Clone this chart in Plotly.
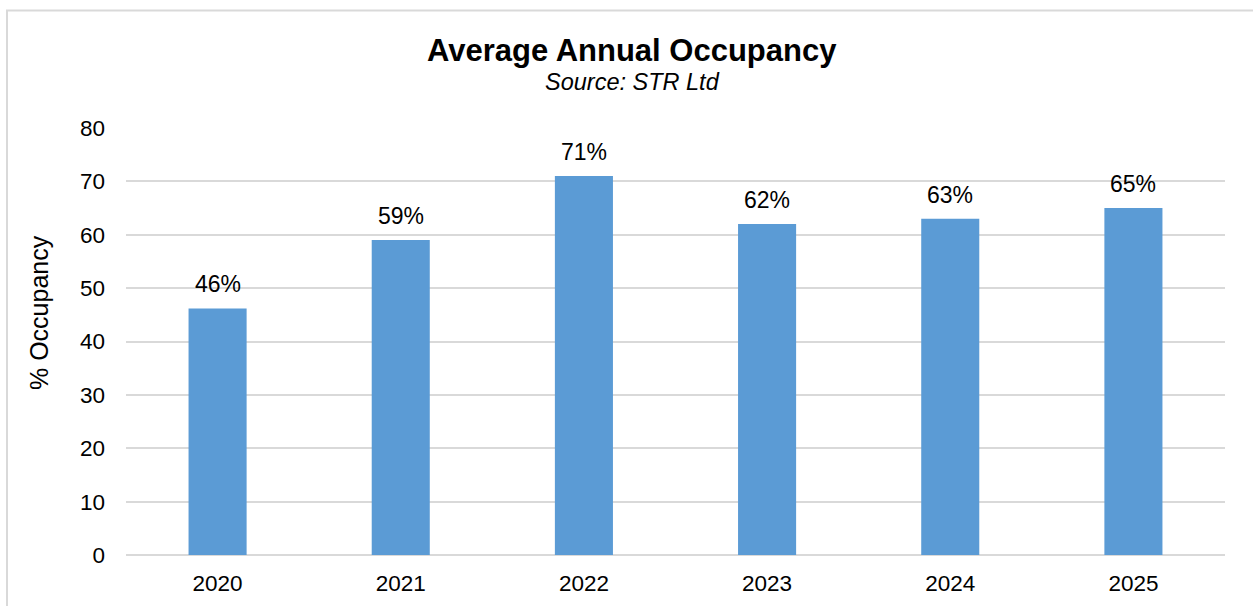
import plotly.graph_objects as go

years = ["2020", "2021", "2022", "2023", "2024", "2025"]
occupancy = [46.2, 59.0, 71.0, 62.0, 63.0, 65.0]
labels = ["46%", "59%", "71%", "62%", "63%", "65%"]
y_ticks = [0, 10, 20, 30, 40, 50, 60, 70, 80]

FONT = "Liberation Sans, Arial, sans-serif"
L, R, T, B = 126, 28, 128, 51
W, H = 1253, 606
pw, ph = W - L - R, H - T - B

def px_x(px):
    return (px - L) / pw

def px_y(py):
    return (H - B - py) / ph

fig = go.Figure()
fig.add_trace(go.Bar(
    x=years, y=occupancy,
    marker=dict(color="#5B9BD5", line=dict(width=0)),
    hoverinfo="skip",
))

for i, (v, lab) in enumerate(zip(occupancy, labels)):
    fig.add_annotation(x=i, y=v, text=lab, showarrow=False, yanchor="bottom",
                       yshift=9, font=dict(family=FONT, size=23, color="black"))

fig.add_annotation(xref="paper", yref="paper", x=px_x(632), y=px_y(50),
                   text="<b>Average Annual Occupancy</b>", showarrow=False,
                   xanchor="center", yanchor="middle",
                   font=dict(family=FONT, size=31, color="black"))
fig.add_annotation(xref="paper", yref="paper", x=px_x(632), y=px_y(82),
                   text="<i>Source: STR Ltd</i>", showarrow=False,
                   xanchor="center", yanchor="middle",
                   font=dict(family=FONT, size=23.5, color="black"))
fig.add_annotation(xref="paper", yref="paper", x=px_x(39), y=px_y(313),
                   text="% Occupancy", showarrow=False, textangle=-90,
                   xanchor="center", yanchor="middle",
                   font=dict(family=FONT, size=25, color="black"))

fig.add_shape(type="rect", xref="paper", yref="paper",
              x0=px_x(7), x1=px_x(1262), y0=px_y(615), y1=px_y(10.5),
              line=dict(color="#D9D9D9", width=2), fillcolor="rgba(0,0,0,0)", layer="below")

fig.update_layout(
    width=W, height=H,
    margin=dict(l=L, r=R, t=T, b=B, pad=0, autoexpand=False),
    paper_bgcolor="white", plot_bgcolor="white",
    bargap=0.683,
    showlegend=False,
    font=dict(family=FONT, color="black"),
)
fig.update_xaxes(type="category", range=[-0.5, len(years) - 0.5], autorange=False,
                 automargin=False,
                 showgrid=False, showline=False, zeroline=False,
                 tickfont=dict(family=FONT, size=22.5, color="black"),
                 ticks="", ticklabelstandoff=12)
fig.update_yaxes(range=[0, 80], autorange=False, tickvals=y_ticks, showgrid=True,
                 automargin=False,
                 gridcolor="#D9D9D9", gridwidth=1.5, zeroline=True,
                 zerolinecolor="#D9D9D9", zerolinewidth=1.5,
                 showline=False, ticks="",
                 tickfont=dict(family=FONT, size=22.5, color="black"),
                 ticklabelstandoff=20)

fig.write_html("out.html", config={"displayModeBar": False},
               post_script="document.body.style.margin='0';document.body.style.overflow='hidden';")
